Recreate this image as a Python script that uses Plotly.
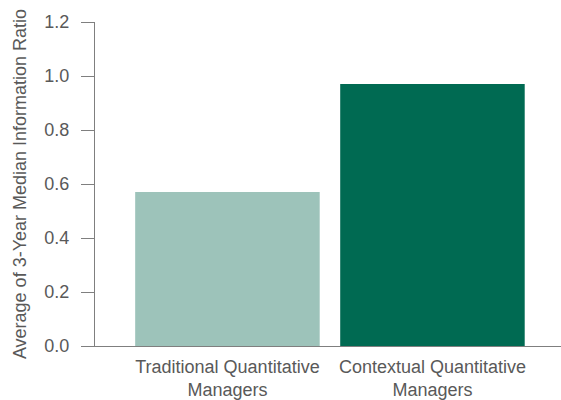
import plotly.graph_objects as go

categories = ["Traditional Quantitative<br>Managers", "Contextual Quantitative<br>Managers"]
values = [0.57, 0.97]
colors = ["#9DC3BA", "#006A52"]
y_ticks = [0.0, 0.2, 0.4, 0.6, 0.8, 1.0, 1.2]
y_tick_labels = ["0.0", "0.2", "0.4", "0.6", "0.8", "1.0", "1.2"]

fig = go.Figure(go.Bar(x=categories, y=values, marker_color=colors, marker_line_width=0))

font_col = "#595959"
fig.update_layout(
    width=561, height=400,
    margin=dict(l=95, r=0, t=22, b=52),
    plot_bgcolor="white", paper_bgcolor="white",
    bargap=0.1,
    showlegend=False,
    font=dict(family="Liberation Sans, Arial, sans-serif", color=font_col, size=18),
)
fig.update_xaxes(
    type="category", range=[-0.646, 1.627],
    showline=True, linecolor="#7f7f7f", linewidth=1,
    ticks="", showgrid=False,
    ticklabelstandoff=4,
    tickfont=dict(size=18, color=font_col),
)
fig.update_yaxes(
    range=[0, 1.2], tickvals=y_ticks, ticktext=y_tick_labels,
    showline=True, linecolor="#7f7f7f", linewidth=1,
    ticks="outside", ticklen=13, tickcolor="#7f7f7f",
    ticklabelstandoff=8,
    showgrid=False, zeroline=False,
    tickfont=dict(size=18, color=font_col),
    title=dict(text="Average of 3-Year Median Information Ratio", font=dict(size=18, color=font_col), standoff=13),
)
fig.write_html("out.html")
